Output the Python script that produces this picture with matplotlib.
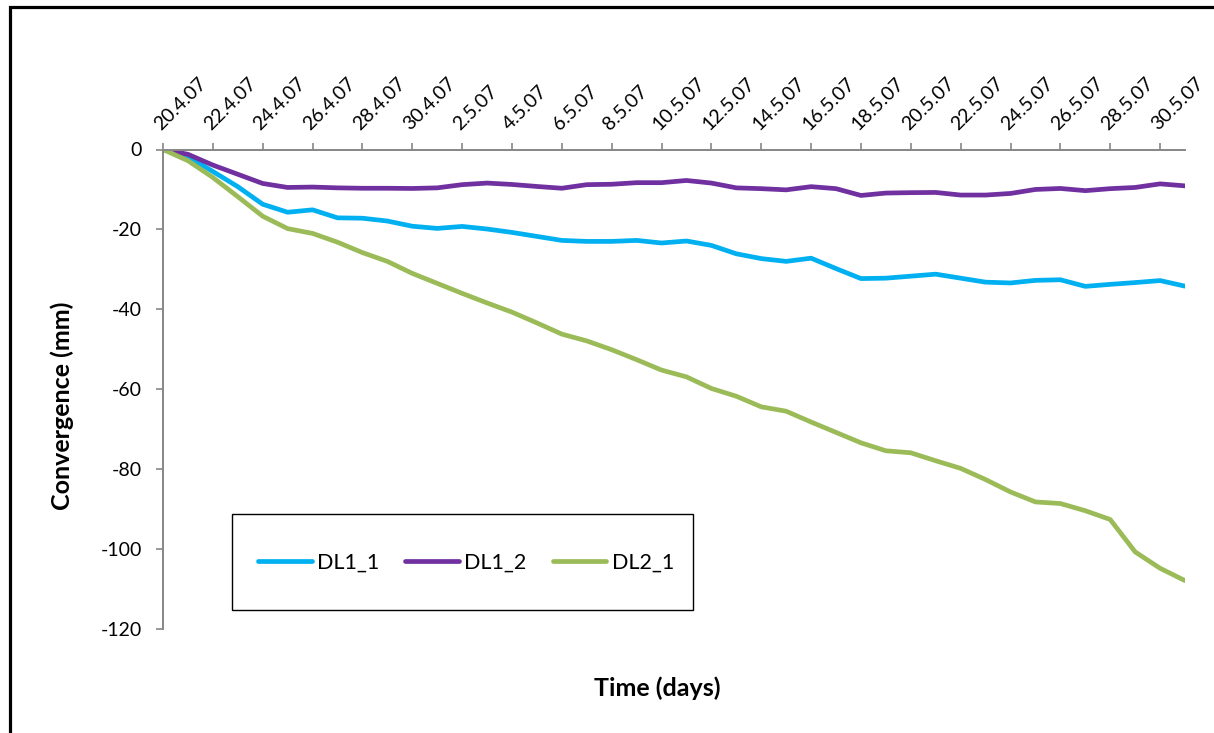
import numpy as np
import matplotlib
matplotlib.use('Agg')
import matplotlib.pyplot as plt
from matplotlib.patches import Rectangle

plt.rcParams['font.family'] = ['Lato', 'DejaVu Sans']
plt.rcParams['axes.unicode_minus'] = False

# daily readings, 20.4.07 .. 31.5.07 (42 days)
tick_labels = ['20.4.07', '22.4.07', '24.4.07', '26.4.07', '28.4.07', '30.4.07',
               '2.5.07', '4.5.07', '6.5.07', '8.5.07', '10.5.07', '12.5.07',
               '14.5.07', '16.5.07', '18.5.07', '20.5.07', '22.5.07', '24.5.07',
               '26.5.07', '28.5.07', '30.5.07']

dl1_1 = [0, -1.8, -5.5, -9.3, -13.7, -15.7, -15.1, -17.1, -17.2, -17.9,
         -19.2, -19.75, -19.25, -19.9, -20.75, -21.75, -22.75, -23.0, -23.0, -22.75,
         -23.4, -22.9, -24.0, -26.1, -27.3, -28.0, -27.2, -29.8, -32.3, -32.2,
         -31.7, -31.2, -32.2, -33.2, -33.4, -32.75, -32.6, -34.25, -33.75, -33.3,
         -32.8, -34.2]
dl1_2 = [0, -1.2, -3.9, -6.2, -8.5, -9.5, -9.4, -9.6, -9.7, -9.7,
         -9.75, -9.6, -8.8, -8.4, -8.75, -9.25, -9.7, -8.8, -8.7, -8.3,
         -8.3, -7.75, -8.4, -9.6, -9.8, -10.1, -9.3, -9.8, -11.5, -10.9,
         -10.8, -10.75, -11.4, -11.4, -11.0, -10.0, -9.75, -10.3, -9.8, -9.5,
         -8.6, -9.1]
dl2_1 = [0, -2.8, -7.0, -11.8, -16.7, -19.8, -21.0, -23.2, -25.8, -28.0,
         -31.0, -33.5, -36.0, -38.4, -40.7, -43.4, -46.2, -47.9, -50.1, -52.6,
         -55.2, -56.9, -59.8, -61.75, -64.4, -65.5, -68.2, -70.8, -73.4, -75.4,
         -75.9, -77.9, -79.8, -82.6, -85.7, -88.2, -88.6, -90.4, -92.6, -100.7,
         -104.8, -107.9]

W, H = 1214, 733
fig = plt.figure(figsize=(W / 100, H / 100), dpi=100)
ax = fig.add_axes([163 / W, 1 - 629 / H, (1185 - 163) / W, (629 - 149.5) / H])

x = np.arange(len(dl1_1))
ax.plot(x, dl1_1, color='#00B0F0', lw=3.4, label='DL1_1', solid_capstyle='round')
ax.plot(x, dl1_2, color='#7030A0', lw=3.4, label='DL1_2', solid_capstyle='round')
ax.plot(x, dl2_1, color='#9BBB59', lw=3.4, label='DL2_1', solid_capstyle='round')

ax.set_xlim(0, len(x) - 1)
ax.set_ylim(-120, 0)
ax.set_yticks(np.arange(-120, 1, 20))

grey = '#868686'
ax.xaxis.tick_top()
ax.set_xticks(np.arange(0, len(x) - 1, 2))
ax.set_xticklabels(tick_labels, rotation=45, ha='left', va='bottom',
                   rotation_mode='anchor', fontsize=14)
ax.tick_params(axis='x', direction='out', length=5, width=1.2, color=grey, pad=7)
ax.tick_params(axis='y', direction='out', length=5, width=1.2, color=grey, pad=10,
               labelsize=14)
for s in ['right', 'bottom']:
    ax.spines[s].set_visible(False)
for s in ['top', 'left']:
    ax.spines[s].set_color(grey)
    ax.spines[s].set_linewidth(1.4)

fig.text(62 / W, 1 - 406 / H, 'Convergence (mm)', rotation=90, fontsize=18,
         fontweight='bold', ha='center', va='center')
fig.text(657 / W, 1 - 688 / H, 'Time (days)', fontsize=18, fontweight='bold',
         ha='center', va='center')

# legend box
fig.patches.append(Rectangle((232 / W, 1 - 610 / H), 461 / W, 96 / H, fill=False,
                             ec='black', lw=1, transform=fig.transFigure))
fig.legend(loc='center', bbox_to_anchor=(466 / W, 1 - 563 / H), ncol=3,
           frameon=False, fontsize=15.5, handlelength=2.5, columnspacing=1.2,
           handletextpad=0.25)

# outer frame
fig.patches.append(Rectangle((9.5 / W, -0.1), 1.2, 1.1 - 7.5 / H, fill=False,
                             ec='black', lw=2.3, transform=fig.transFigure))

fig.savefig('out.png', dpi=100)
